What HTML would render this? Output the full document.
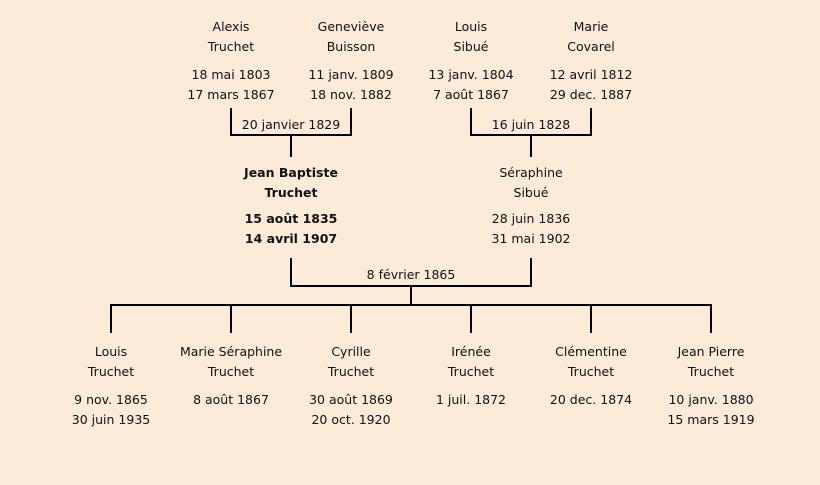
<!DOCTYPE html>
<html><head><meta charset="utf-8"><style>
html,body{margin:0;padding:0}
body{width:820px;height:485px;background:#fdebd9;position:relative;overflow:hidden;font-family:"Comic Sans MS","DejaVu Sans","Liberation Sans",sans-serif;font-size:12.5px;color:#111}
.t{position:absolute;width:140px;margin-left:-70px;text-align:center;line-height:20px;white-space:nowrap}
.b{font-weight:bold}
.l{position:absolute;background:#000}
</style></head><body>
<!-- lines -->
<div class="l" style="left:230px;top:108px;width:2px;height:28px"></div>
<div class="l" style="left:350px;top:108px;width:2px;height:28px"></div>
<div class="l" style="left:230px;top:134px;width:122px;height:2px"></div>
<div class="l" style="left:290px;top:134px;width:2px;height:23px"></div>
<div class="l" style="left:470px;top:108px;width:2px;height:28px"></div>
<div class="l" style="left:590px;top:108px;width:2px;height:28px"></div>
<div class="l" style="left:470px;top:134px;width:122px;height:2px"></div>
<div class="l" style="left:530px;top:134px;width:2px;height:23px"></div>
<div class="l" style="left:290px;top:258px;width:2px;height:29px"></div>
<div class="l" style="left:530px;top:258px;width:2px;height:29px"></div>
<div class="l" style="left:290px;top:285px;width:242px;height:2px"></div>
<div class="l" style="left:410px;top:285px;width:2px;height:21px"></div>
<div class="l" style="left:110px;top:304px;width:602px;height:2px"></div>
<div class="l" style="left:110px;top:304px;width:2px;height:29px"></div>
<div class="l" style="left:230px;top:304px;width:2px;height:29px"></div>
<div class="l" style="left:350px;top:304px;width:2px;height:29px"></div>
<div class="l" style="left:470px;top:304px;width:2px;height:29px"></div>
<div class="l" style="left:590px;top:304px;width:2px;height:29px"></div>
<div class="l" style="left:710px;top:304px;width:2px;height:29px"></div>
<!-- grandparents -->
<div class="t" style="left:231px;top:17px">Alexis<br>Truchet</div>
<div class="t" style="left:231px;top:65px">18 mai 1803<br>17 mars 1867</div>
<div class="t" style="left:351px;top:17px">Geneviève<br>Buisson</div>
<div class="t" style="left:351px;top:65px">11 janv. 1809<br>18 nov. 1882</div>
<div class="t" style="left:471px;top:17px">Louis<br>Sibué</div>
<div class="t" style="left:471px;top:65px">13 janv. 1804<br>7 août 1867</div>
<div class="t" style="left:591px;top:17px">Marie<br>Covarel</div>
<div class="t" style="left:591px;top:65px">12 avril 1812<br>29 dec. 1887</div>
<div class="t" style="left:291px;top:115px">20 janvier 1829</div>
<div class="t" style="left:531px;top:115px">16 juin 1828</div>
<!-- parents -->
<div class="t b" style="left:291px;top:163px">Jean Baptiste<br>Truchet</div>
<div class="t b" style="left:291px;top:209px">15 août 1835<br>14 avril 1907</div>
<div class="t" style="left:531px;top:163px">Séraphine<br>Sibué</div>
<div class="t" style="left:531px;top:209px">28 juin 1836<br>31 mai 1902</div>
<div class="t" style="left:411px;top:265px">8 février 1865</div>
<!-- children -->
<div class="t" style="left:111px;top:342px">Louis<br>Truchet</div>
<div class="t" style="left:111px;top:390px">9 nov. 1865<br>30 juin 1935</div>
<div class="t" style="left:231px;top:342px">Marie Séraphine<br>Truchet</div>
<div class="t" style="left:231px;top:390px">8 août 1867</div>
<div class="t" style="left:351px;top:342px">Cyrille<br>Truchet</div>
<div class="t" style="left:351px;top:390px">30 août 1869<br>20 oct. 1920</div>
<div class="t" style="left:471px;top:342px">Irénée<br>Truchet</div>
<div class="t" style="left:471px;top:390px">1 juil. 1872</div>
<div class="t" style="left:591px;top:342px">Clémentine<br>Truchet</div>
<div class="t" style="left:591px;top:390px">20 dec. 1874</div>
<div class="t" style="left:711px;top:342px">Jean Pierre<br>Truchet</div>
<div class="t" style="left:711px;top:390px">10 janv. 1880<br>15 mars 1919</div>
</body></html>
